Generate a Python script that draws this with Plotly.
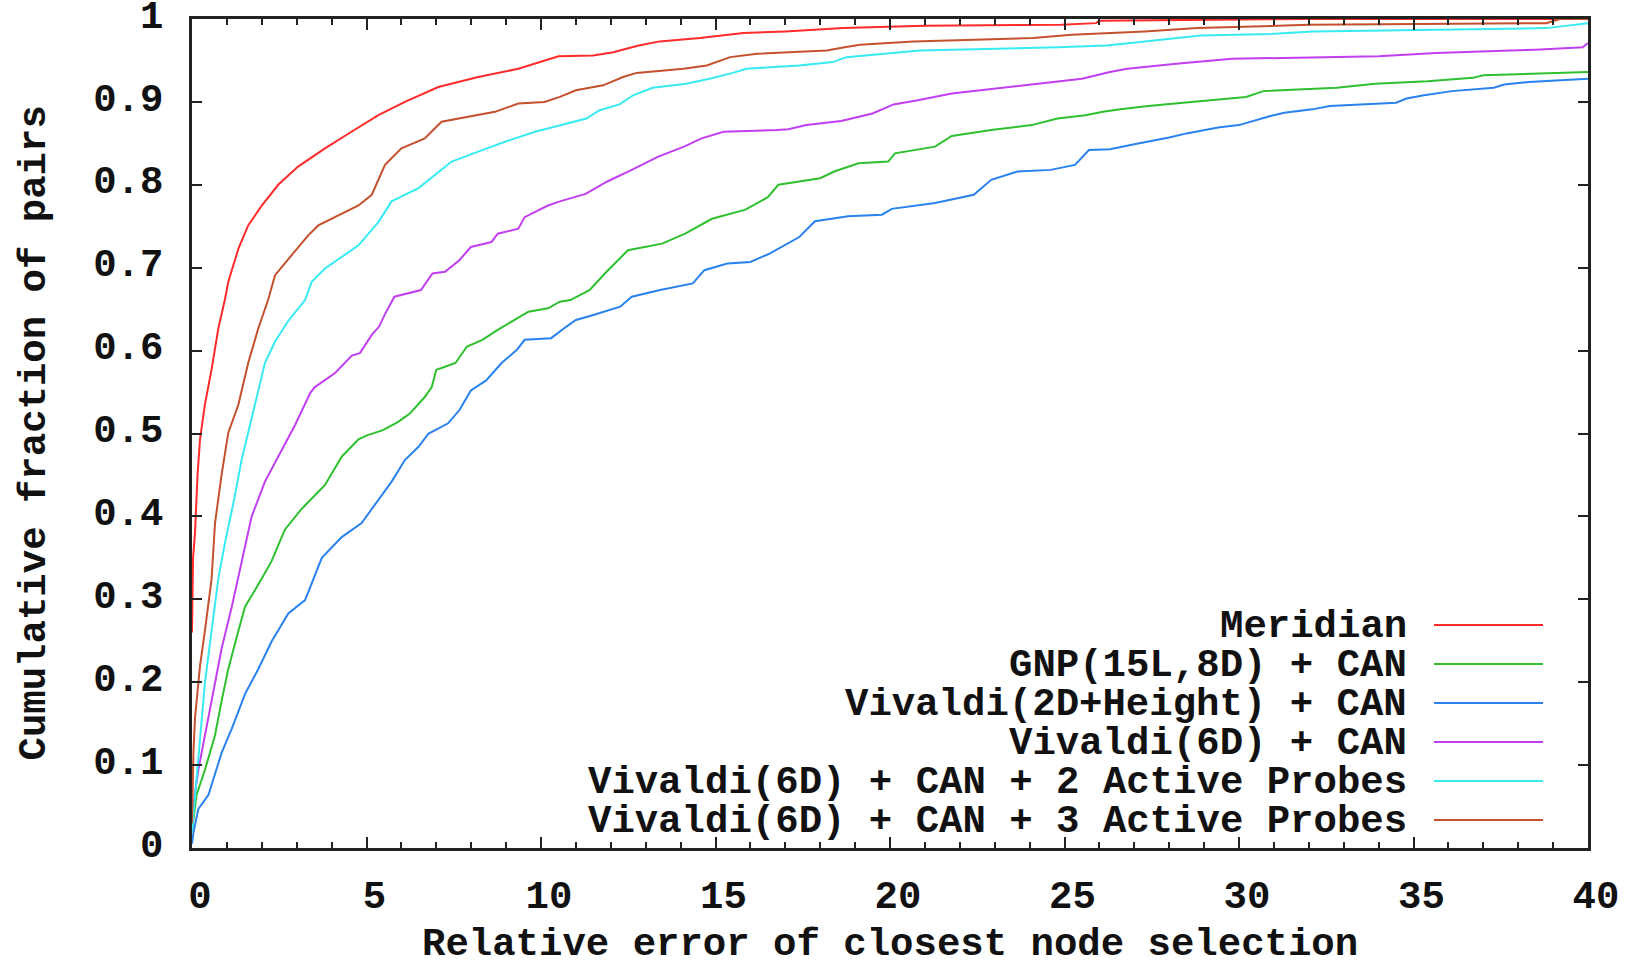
import plotly.graph_objects as go

# ---- data: cumulative fraction of pairs vs. relative error ----
meridian_x = [0, 0.03, 0.086, 0.16, 0.23, 0.37, 0.56, 0.755, 0.94, 1.04, 1.33, 1.61, 2.0, 2.47,
              3.04, 3.81, 4.57, 5.34, 6.1, 7.06, 8.2, 9.35, 10.5, 11.5, 12.07, 12.8, 13.4, 14.55,
              15.8, 17.0, 18.65, 21.0, 24.9, 25.9, 26.0, 32.0, 40]
meridian_y = [0.26, 0.35, 0.38, 0.451, 0.493, 0.535, 0.577, 0.627, 0.661, 0.683, 0.723, 0.751, 0.775,
              0.800, 0.822, 0.844, 0.864, 0.884, 0.900, 0.918, 0.930, 0.940, 0.955, 0.956, 0.960,
              0.968, 0.973, 0.977, 0.983, 0.985, 0.989, 0.992, 0.993, 0.995, 0.998, 1.0, 1.0]

gnp_x = [0, 0.13, 0.37, 0.66, 0.85, 1.04, 1.33, 1.52, 2.0, 2.28, 2.66, 3.14, 3.81, 4.29, 4.77, 5.03,
         5.47, 5.91, 6.24, 6.39, 6.67, 6.87, 7.0, 7.15, 7.55, 7.88, 8.32, 8.76, 9.09, 9.64, 10.2,
         10.54, 10.84, 11.39, 11.83, 12.49, 13.47, 14.13, 14.9, 15.86, 16.5, 16.8, 18.0, 18.4, 19.1,
         19.95, 20.14, 21.29, 21.77, 22.9, 24.06, 24.8, 25.6, 26.1, 26.6, 27.4, 28.4, 29.1, 30.2,
         30.7, 32.8, 33.9, 35.4, 36.7, 37.0, 40]
gnp_y = [0.02, 0.064, 0.094, 0.136, 0.178, 0.216, 0.262, 0.291, 0.325, 0.346, 0.384, 0.409, 0.438,
         0.472, 0.493, 0.498, 0.504, 0.514, 0.524, 0.531, 0.544, 0.556, 0.577, 0.579, 0.585, 0.605,
         0.613, 0.625, 0.633, 0.647, 0.651, 0.659, 0.661, 0.673, 0.693, 0.721, 0.729, 0.741, 0.759,
         0.770, 0.785, 0.800, 0.808, 0.816, 0.826, 0.828, 0.838, 0.846, 0.859, 0.866, 0.872, 0.880,
         0.884, 0.888, 0.891, 0.895, 0.899, 0.902, 0.906, 0.913, 0.917, 0.922, 0.925, 0.929, 0.932,
         0.936]

viv2dh_x = [0, 0.04, 0.18, 0.47, 0.85, 1.14, 1.52, 1.9, 2.28, 2.76, 3.24, 3.72, 4.29, 4.86, 5.72,
            6.1, 6.49, 6.78, 7.33, 7.66, 7.99, 8.43, 8.87, 9.31, 9.53, 10.29, 10.73, 11.0, 11.5,
            12.27, 12.6, 13.41, 14.35, 14.68, 15.34, 16.0, 16.55, 17.4, 17.85, 18.8, 19.77, 20.05,
            21.29, 22.4, 22.9, 23.65, 24.6, 25.3, 25.7, 26.3, 27.0, 27.5, 28.0, 28.5, 29.0, 29.4,
            30.0, 30.4, 30.9, 31.3, 32.1, 32.6, 34.5, 34.8, 35.3, 36.1, 37.3, 37.6, 38.3, 40]
viv2dh_y = [0.005, 0.018, 0.047, 0.064, 0.115, 0.144, 0.186, 0.216, 0.249, 0.283, 0.299, 0.350,
            0.375, 0.392, 0.442, 0.468, 0.484, 0.500, 0.512, 0.528, 0.552, 0.564, 0.585, 0.601,
            0.613, 0.615, 0.629, 0.637, 0.643, 0.653, 0.665, 0.673, 0.681, 0.697, 0.705, 0.707,
            0.717, 0.737, 0.756, 0.762, 0.764, 0.771, 0.778, 0.788, 0.806, 0.816, 0.818, 0.824,
            0.842, 0.843, 0.849, 0.853, 0.857, 0.862, 0.866, 0.869, 0.872, 0.877, 0.883, 0.887,
            0.891, 0.895, 0.899, 0.904, 0.908, 0.913, 0.917, 0.921, 0.924, 0.928]

viv6d_x = [0, 0.04, 0.18, 0.37, 0.56, 0.85, 1.14, 1.42, 1.71, 2.09, 2.57, 2.95, 3.39, 3.52, 4.1,
           4.26, 4.58, 4.81, 5.15, 5.36, 5.53, 5.8, 6.56, 6.89, 7.25, 7.66, 7.99, 8.58, 8.76, 9.35,
           9.53, 10.2, 10.54, 11.28, 11.9, 12.6, 13.36, 14.1, 14.6, 15.23, 16.2, 16.76, 17.09, 17.6,
           18.6, 19.5, 20.1, 20.8, 21.77, 22.6, 23.87, 24.6, 25.5, 26.3, 26.8, 28.2, 29.8, 34.0,
           35.65, 38.5, 39.85, 40]
viv6d_y = [0.02, 0.052, 0.094, 0.136, 0.178, 0.241, 0.291, 0.346, 0.400, 0.442, 0.480, 0.510,
           0.549, 0.556, 0.573, 0.580, 0.594, 0.597, 0.619, 0.629, 0.644, 0.665, 0.673, 0.693,
           0.695, 0.709, 0.725, 0.731, 0.741, 0.747, 0.761, 0.775, 0.780, 0.789, 0.804, 0.818,
           0.834, 0.846, 0.856, 0.864, 0.865, 0.866, 0.867, 0.872, 0.877, 0.886, 0.897, 0.902,
           0.910, 0.914, 0.920, 0.924, 0.928, 0.936, 0.940, 0.946, 0.952, 0.955, 0.959, 0.963,
           0.966, 0.971]

probe2_x = [0, 0.086, 0.23, 0.37, 0.56, 0.755, 0.94, 1.23, 1.42, 1.71, 1.9, 2.09, 2.38, 2.76, 3.24,
            3.43, 3.81, 4.38, 4.77, 5.34, 5.72, 6.49, 7.44, 8.2, 8.97, 9.83, 10.54, 11.3, 11.68,
            12.25, 12.64, 13.2, 14.16, 14.83, 15.5, 15.88, 17.4, 18.36, 18.75, 19.7, 20.86, 24.8,
            26.2, 27.1, 28.9, 30.9, 32.1, 38.8, 40]
probe2_y = [0.02, 0.064, 0.136, 0.199, 0.262, 0.325, 0.367, 0.425, 0.468, 0.518, 0.552, 0.585,
            0.611, 0.636, 0.661, 0.683, 0.699, 0.715, 0.727, 0.755, 0.780, 0.796, 0.828, 0.840,
            0.852, 0.864, 0.872, 0.880, 0.890, 0.897, 0.908, 0.917, 0.922, 0.928, 0.935, 0.940,
            0.944, 0.948, 0.954, 0.958, 0.962, 0.966, 0.968, 0.972, 0.980, 0.982, 0.985, 0.989,
            0.995]

probe3_x = [0, 0.04, 0.086, 0.23, 0.37, 0.56, 0.66, 0.85, 1.04, 1.33, 1.61, 1.9, 2.18, 2.38, 2.85,
            3.33, 3.62, 4.19, 4.77, 5.15, 5.53, 6.0, 6.67, 7.15, 7.9, 8.68, 9.35, 10.1, 10.54, 11.0,
            11.78, 12.35, 12.74, 14.08, 14.75, 15.42, 16.19, 18.19, 18.7, 19.14, 20.67, 24.1, 25.2,
            27.3, 28.8, 32.0, 38.8, 39.2, 40]
probe3_y = [0.03, 0.115, 0.157, 0.22, 0.262, 0.324, 0.392, 0.451, 0.501, 0.535, 0.585, 0.627,
            0.661, 0.691, 0.715, 0.739, 0.751, 0.763, 0.775, 0.788, 0.824, 0.844, 0.856, 0.876,
            0.882, 0.888, 0.898, 0.900, 0.906, 0.914, 0.920, 0.930, 0.935, 0.940, 0.944, 0.954,
            0.958, 0.962, 0.966, 0.969, 0.973, 0.977, 0.981, 0.985, 0.989, 0.993, 0.995, 1.0, 1.0]

series = [
    ("Meridian", meridian_x, meridian_y, "#ff2a2a"),
    ("GNP(15L,8D) + CAN", gnp_x, gnp_y, "#2fc02f"),
    ("Vivaldi(2D+Height) + CAN", viv2dh_x, viv2dh_y, "#2a82ee"),
    ("Vivaldi(6D) + CAN", viv6d_x, viv6d_y, "#c13ff0"),
    ("Vivaldi(6D) + CAN + 2 Active Probes", probe2_x, probe2_y, "#38eaf2"),
    ("Vivaldi(6D) + CAN + 3 Active Probes", probe3_x, probe3_y, "#c4502e"),
]

x_ticks = [0, 5, 10, 15, 20, 25, 30, 35, 40]
y_ticks = [0, 0.1, 0.2, 0.3, 0.4, 0.5, 0.6, 0.7, 0.8, 0.9, 1]
y_tick_text = ["0", "0.1", "0.2", "0.3", "0.4", "0.5", "0.6", "0.7", "0.8", "0.9", "1"]

FONT = "Liberation Mono"
FSIZE = 39
TEXT_FONT = dict(family=FONT, size=FSIZE, color="#111", weight="bold")
W, H = 1630, 967
ML, MR, MT, MB = 192, 42, 19, 119

fig = go.Figure()
for name, xs, ys, color in series:
    assert len(xs) == len(ys), name
    fig.add_trace(go.Scatter(x=xs, y=ys, mode="lines", name=name,
                             line=dict(color=color, width=2), showlegend=False))

# key: right-aligned labels with a short line sample, inside the lower right of the plot
plot_w = W - ML - MR
plot_h = H - MT - MB
key_text_right = (1409 - ML) / plot_w
key_line_x0 = (1434 - ML) / plot_w
key_line_x1 = (1543 - ML) / plot_w
key_top_px = 625
key_step_px = 39
for i, (name, xs, ys, color) in enumerate(series):
    ypx = key_top_px + i * key_step_px
    yp = (H - MB - ypx) / plot_h
    fig.add_annotation(xref="paper", yref="paper", x=key_text_right, y=yp, yshift=-2,
                       text=name, showarrow=False, xanchor="right", yanchor="middle",
                       height=38, valign="middle", font=TEXT_FONT)
    fig.add_shape(type="line", xref="paper", yref="paper",
                  x0=key_line_x0, x1=key_line_x1, y0=yp, y1=yp,
                  line=dict(color=color, width=2))

# axis titles
fig.add_annotation(xref="paper", yref="paper", x=0.5, y=0, yshift=-97,
                   text="Relative error of closest node selection", showarrow=False,
                   xanchor="center", yanchor="middle", height=38, valign="middle",
                   font=TEXT_FONT)
fig.add_annotation(xref="paper", yref="paper", x=0, y=0.5, xshift=-158,
                   text="Cumulative fraction of pairs", showarrow=False, textangle=-90,
                   xanchor="center", yanchor="middle", font=TEXT_FONT)

axis_common = dict(showgrid=False, zeroline=False, showline=True, linecolor="#222",
                   linewidth=2.5, mirror="allticks", ticks="inside", tickcolor="#222",
                   ticklabeloverflow="allow", automargin=False, tickfont=TEXT_FONT)

fig.update_xaxes(range=[0, 40], tickvals=x_ticks, ticktext=[str(v) for v in x_ticks],
                 ticklen=11, tickwidth=2, ticklabelstandoff=10, ticklabelshift=8,
                 minor=dict(dtick=1, ticks="inside", ticklen=6, tickwidth=1.5, tickcolor="#222"),
                 **axis_common)
fig.update_yaxes(range=[0, 1], tickvals=y_ticks, ticktext=y_tick_text,
                 ticklen=10, tickwidth=2, ticklabelstandoff=18, ticklabelshift=-5,
                 **axis_common)

fig.update_layout(width=W, height=H, margin=dict(l=ML, r=MR, t=MT, b=MB, autoexpand=False),
                  plot_bgcolor="white", paper_bgcolor="white", font=dict(family=FONT))

fig.write_html("out.html")
